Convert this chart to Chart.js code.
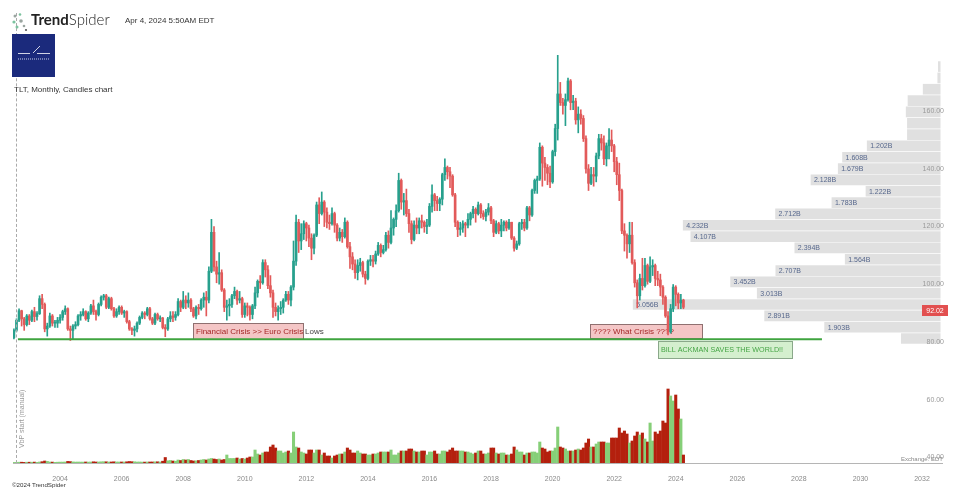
<!DOCTYPE html>
<html>
<head>
<meta charset="utf-8">
<script src="https://cdn.jsdelivr.net/npm/chart.js@4.4.1/dist/chart.umd.min.js"></script>
<style>
  body { margin: 0; background: #fff; }
  #wrap { position: relative; width: 960px; height: 491px; font-family: "Liberation Sans", Arial, sans-serif; }
  #wrap canvas { position: absolute; left: 0; top: 0; }
  .txt { position: absolute; white-space: nowrap; line-height: 1; z-index: 2; }
  .vline { position: absolute; left: 16px; top: 13px; height: 450px; border-left: 1px dashed #aaa; z-index: 1; }
  .spider { position: absolute; left: 11px; top: 12px; z-index: 2; }
  .brand { left: 31px; top: 12px; font-family: Lato, sans-serif; font-size: 15px; color: #222; font-weight: 300; }
  .brand b { font-weight: 700; }
  .stamp { left: 125px; top: 17px; font-size: 8px; color: #333; }
  .badge { position: absolute; left: 12px; top: 34px; width: 43px; height: 43px; background: #1b2a7c; z-index: 2; }
  .title { left: 14px; top: 86px; font-size: 8px; color: #333; }
  .vbp { left: 18px; top: 448px; font-size: 7px; color: #999; transform: rotate(-90deg); transform-origin: left top; }
  .exch { left: 901px; top: 456px; font-size: 6px; color: #888; }
  .copy { left: 12px; top: 482px; font-size: 6.2px; color: #333; }
</style>
</head>
<body>
<div id="wrap">
  <canvas id="tlt" width="960" height="491"></canvas>
  <div class="vline"></div>
  <svg class="spider" width="18" height="20">
    <circle cx="4" cy="4" r="1.5" fill="#9aa5a0"/>
    <circle cx="9" cy="2.5" r="1.3" fill="#7cc39f"/>
    <circle cx="3" cy="10" r="1.6" fill="#7cc39f"/>
    <circle cx="10" cy="9" r="1.8" fill="#9aa5a0"/>
    <circle cx="6" cy="15" r="1.5" fill="#7cc39f"/>
    <circle cx="13" cy="14" r="1.3" fill="#9aa5a0"/>
    <circle cx="15" cy="18" r="1.1" fill="#555"/>
  </svg>
  <div class="txt brand"><b>Trend</b>Spider</div>
  <div class="txt stamp">Apr 4, 2024 5:50AM EDT</div>
  <div class="badge">
    <svg width="43" height="43">
      <line x1="21" y1="19" x2="28" y2="12" stroke="#fff" stroke-width="0.8"/>
      <line x1="6" y1="19.5" x2="18" y2="19.5" stroke="#fff" stroke-width="0.8"/>
      <line x1="25" y1="19.5" x2="38" y2="19.5" stroke="#fff" stroke-width="0.8"/>
      <line x1="6" y1="25" x2="38" y2="25" stroke="#c8cde8" stroke-width="1.2" stroke-dasharray="1 1"/>
    </svg>
  </div>
  <div class="txt title">TLT, Monthly, Candles chart</div>
  <div class="txt vbp">VbP start (manual)</div>
  <div class="txt exch">Exchange: EDT</div>
  <div class="txt copy">©2024 TrendSpider</div>
</div>
<script>
// TLT monthly candles, Jul 2002 .. Apr 2024 (one row per year)
const firstYear = 2002
const firstMonth = 7

const opens = [
  81.5, 84.0, 87.5, 90.8, 88.0, 86.0,
  89.0, 87.5, 90.5, 88.8, 89.8, 95.0, 93.0, 84.5, 85.5, 89.0, 86.5, 86.5,
  87.5, 88.5, 90.5, 91.5, 84.5, 84.0, 85.5, 86.0, 89.0, 89.5, 90.5, 88.0,
  90.0, 92.5, 90.5, 89.5, 93.0, 95.5, 96.0, 92.0, 95.0, 91.5, 89.0, 90.5,
  92.0, 90.0, 90.5, 87.0, 84.5, 84.0, 84.5, 86.5, 88.5, 90.0, 89.5, 91.5,
  88.0, 86.5, 89.5, 88.0, 88.3, 85.0, 84.5, 88.0, 89.0, 88.5, 89.5, 94.0,
  92.0, 94.5, 93.5, 94.5, 91.5, 89.0, 92.0, 91.5, 94.5, 95.5, 94.5, 104.5,
  118.0, 106.0, 103.5, 104.0, 98.0, 92.0, 92.5, 93.0, 96.0, 97.5, 94.5, 95.0,
  89.5, 92.5, 92.0, 89.5, 92.5, 97.0, 101.0, 100.5, 107.5, 105.0, 99.5, 97.0,
  92.0, 90.5, 91.5, 92.0, 94.5, 96.5, 94.5, 99.0, 108.0, 121.5, 115.0, 117.5,
  121.0, 119.5, 116.0, 112.5, 117.0, 127.5, 124.5, 128.5, 125.0, 121.5, 121.0, 124.5,
  120.5, 116.0, 118.0, 116.5, 121.5, 113.0, 109.5, 107.0, 104.0, 106.5, 107.5, 103.5,
  102.0, 108.0, 108.5, 108.0, 110.5, 113.5, 111.0, 112.0, 117.0, 114.5, 119.5, 122.5,
  125.5, 136.0, 128.5, 129.0, 124.5, 121.0, 115.5, 120.5, 119.5, 122.0, 121.5, 120.0,
  120.5, 127.0, 131.0, 129.0, 128.0, 129.5, 138.0, 140.5, 139.0, 137.5, 131.0, 121.5,
  119.0, 119.5, 121.0, 120.5, 122.5, 124.5, 126.0, 124.5, 127.5, 124.5, 123.5, 125.0,
  126.5, 122.0, 118.0, 121.0, 118.5, 120.5, 121.5, 119.5, 121.5, 116.0, 112.5, 114.0,
  121.0, 121.5, 119.5, 126.5, 124.0, 132.5, 136.0, 136.5, 147.5, 142.0, 140.5, 138.5,
  135.5, 146.0, 154.0, 166.0, 163.0, 162.0, 164.0, 170.5, 163.0, 163.5, 157.0, 159.0,
  157.5, 150.5, 140.0, 135.0, 138.0, 137.5, 144.5, 150.5, 149.0, 143.5, 148.0, 150.0,
  148.0, 142.5, 138.0, 132.5, 118.5, 117.0, 114.0, 117.0, 107.5, 100.5, 96.0, 102.0,
  99.5, 106.5, 101.0, 106.0, 106.5, 102.0, 101.5, 99.0, 95.5, 89.0, 83.5, 91.5,
  99.0, 96.5, 93.5, 94.5
]
const highs = [
  84.5, 88.0, 91.5, 91.0, 88.5, 89.5,
  89.5, 91.0, 92.0, 90.5, 96.0, 96.5, 93.5, 86.5, 90.0, 89.5, 87.5, 88.5,
  89.5, 91.0, 92.5, 91.8, 85.5, 86.0, 87.0, 89.5, 90.5, 91.5, 90.8, 90.5,
  93.0, 94.5, 91.0, 93.5, 96.0, 96.5, 96.5, 95.5, 95.5, 92.0, 91.5, 92.5,
  92.5, 91.0, 90.8, 87.5, 85.0, 85.5, 87.0, 89.0, 90.5, 90.5, 92.0, 92.0,
  88.5, 90.0, 90.0, 89.0, 88.5, 86.0, 88.5, 90.5, 90.5, 90.5, 95.0, 94.5,
  97.5, 96.0, 97.0, 95.0, 92.0, 92.5, 93.0, 95.0, 97.0, 97.5, 106.0, 122.5,
  120.0, 108.0, 111.0, 105.0, 98.5, 94.5, 95.0, 96.5, 99.0, 98.0, 97.5, 95.5,
  93.5, 93.5, 92.5, 93.0, 99.0, 101.5, 103.0, 108.5, 108.5, 106.5, 103.0, 98.0,
  93.5, 92.5, 94.0, 95.0, 97.5, 97.5, 99.5, 115.0, 124.0, 122.5, 121.0, 122.0,
  121.5, 120.5, 117.5, 117.5, 128.5, 130.0, 132.0, 129.0, 126.5, 124.0, 126.5, 125.0,
  121.0, 119.5, 119.0, 123.0, 122.0, 114.5, 111.0, 108.5, 108.5, 109.0, 108.0, 104.5,
  108.5, 110.0, 110.0, 111.5, 114.5, 114.0, 113.5, 118.0, 118.5, 125.5, 123.0, 127.5,
  138.5, 136.5, 131.5, 133.0, 126.0, 122.0, 122.0, 123.0, 123.0, 124.0, 122.0, 122.5,
  128.0, 134.5, 131.5, 130.5, 130.0, 138.5, 143.5, 141.0, 140.5, 138.0, 131.5, 122.0,
  121.5, 122.0, 121.5, 124.5, 125.0, 127.0, 126.5, 128.5, 128.0, 125.5, 126.0, 128.0,
  127.0, 122.5, 122.0, 121.5, 122.5, 122.0, 122.0, 122.5, 121.5, 116.5, 115.0, 121.5,
  122.5, 122.5, 127.0, 127.0, 133.0, 136.5, 137.5, 149.0, 148.0, 144.0, 141.5, 141.0,
  146.5, 155.5, 179.7, 170.0, 164.5, 166.0, 171.5, 171.0, 165.5, 164.5, 161.5, 160.5,
  158.5, 151.5, 141.5, 140.5, 140.5, 145.5, 152.0, 152.0, 151.5, 149.0, 154.0, 153.5,
  148.5, 144.0, 142.0, 133.0, 121.0, 117.5, 121.5, 121.5, 108.5, 101.5, 103.5, 109.0,
  109.0, 107.0, 109.5, 108.5, 107.0, 104.5, 103.5, 99.5, 96.0, 90.5, 93.0, 99.9,
  99.5, 97.0, 96.5, 94.8
]
const lows = [
  81.0, 83.5, 87.0, 85.5, 84.0, 85.5,
  86.0, 87.0, 87.0, 87.5, 89.5, 91.5, 83.5, 82.0, 85.0, 85.5, 85.0, 85.0,
  86.5, 87.5, 89.5, 84.0, 80.5, 81.0, 84.5, 85.5, 87.5, 89.0, 87.5, 87.0,
  89.5, 89.5, 87.5, 89.0, 92.5, 94.5, 91.5, 91.5, 91.0, 88.5, 88.5, 89.5,
  89.5, 88.5, 86.5, 84.0, 82.5, 82.0, 83.5, 86.0, 88.0, 88.0, 89.0, 87.5,
  86.0, 86.0, 87.5, 87.0, 84.5, 81.8, 84.0, 87.0, 87.0, 87.5, 89.0, 90.5,
  91.5, 91.5, 92.0, 90.5, 88.5, 88.0, 89.5, 91.0, 92.0, 89.0, 93.5, 104.0,
  104.5, 100.5, 100.0, 97.5, 90.5, 87.5, 89.0, 92.0, 95.0, 93.0, 93.5, 88.5,
  88.5, 89.0, 87.5, 88.0, 91.5, 95.5, 98.5, 100.0, 102.5, 98.5, 95.5, 88.5,
  89.0, 87.5, 89.5, 90.0, 94.0, 93.0, 92.5, 98.0, 106.5, 111.0, 112.0, 115.5,
  115.0, 113.0, 108.5, 110.5, 116.5, 121.0, 124.0, 120.0, 119.5, 119.0, 120.5, 118.0,
  115.0, 115.0, 114.5, 116.0, 112.5, 105.5, 105.0, 102.0, 101.5, 104.5, 102.5, 100.0,
  101.5, 106.5, 106.0, 107.0, 110.0, 109.5, 110.5, 111.5, 112.5, 114.0, 117.0, 120.0,
  125.0, 126.0, 124.0, 123.5, 118.0, 114.0, 115.0, 117.5, 117.5, 119.5, 118.0, 117.5,
  120.0, 125.0, 125.5, 125.5, 125.5, 127.5, 136.0, 136.5, 133.5, 130.5, 120.0, 116.5,
  117.0, 118.0, 116.5, 119.5, 120.5, 123.0, 121.5, 124.0, 123.0, 122.5, 122.0, 124.0,
  121.0, 116.5, 117.5, 117.5, 116.5, 118.5, 118.5, 119.0, 115.5, 111.5, 112.0, 113.5,
  119.0, 118.5, 119.0, 122.0, 123.5, 131.5, 131.5, 136.0, 134.0, 136.0, 134.5, 133.5,
  135.0, 144.5, 150.0, 162.0, 159.0, 155.0, 163.5, 160.5, 160.5, 155.5, 152.5, 155.5,
  149.5, 138.5, 132.5, 134.5, 134.0, 135.5, 143.5, 146.5, 141.5, 141.0, 143.5, 146.0,
  139.0, 134.5, 129.0, 117.5, 111.5, 109.0, 111.0, 107.0, 99.0, 91.8, 94.5, 98.0,
  99.0, 100.0, 100.5, 103.0, 99.5, 99.5, 96.0, 93.0, 88.5, 82.4, 83.0, 90.5,
  92.5, 91.5, 91.5, 91.5
]
const closes = [
  84.0, 87.5, 90.8, 88.0, 86.0, 89.0,
  87.5, 90.5, 88.8, 89.8, 95.0, 93.0, 84.5, 85.5, 89.0, 86.5, 86.5, 87.5,
  88.5, 90.5, 91.5, 84.5, 84.0, 85.5, 86.0, 89.0, 89.5, 90.5, 88.0, 90.0,
  92.5, 90.5, 89.5, 93.0, 95.5, 96.0, 92.0, 95.0, 91.5, 89.0, 90.5, 92.0,
  90.0, 90.5, 87.0, 84.5, 84.0, 84.5, 86.5, 88.5, 90.0, 89.5, 91.5, 88.0,
  86.5, 89.5, 88.0, 88.3, 85.0, 84.5, 88.0, 89.0, 88.5, 89.5, 94.0, 92.0,
  94.5, 93.5, 94.5, 91.5, 89.0, 92.0, 91.5, 94.5, 95.5, 94.5, 104.5, 118.0,
  106.0, 103.5, 104.0, 98.0, 92.0, 92.5, 93.0, 96.0, 97.5, 94.5, 95.0, 89.5,
  92.5, 92.0, 89.5, 92.5, 97.0, 101.0, 100.5, 107.5, 105.0, 99.5, 97.0, 92.0,
  90.5, 91.5, 92.0, 94.5, 96.5, 94.5, 99.0, 108.0, 121.5, 115.0, 117.5, 121.0,
  119.5, 116.0, 112.5, 117.0, 127.5, 124.5, 128.5, 125.0, 121.5, 121.0, 124.5, 120.5,
  116.0, 118.0, 116.5, 121.5, 113.0, 109.5, 107.0, 104.0, 106.5, 107.5, 103.5, 102.0,
  108.0, 108.5, 108.0, 110.5, 113.5, 111.0, 112.0, 117.0, 114.5, 119.5, 122.5, 125.5,
  136.0, 128.5, 129.0, 124.5, 121.0, 115.5, 120.5, 119.5, 122.0, 121.5, 120.0, 120.5,
  127.0, 131.0, 129.0, 128.0, 129.5, 138.0, 140.5, 139.0, 137.5, 131.0, 121.5, 119.0,
  119.5, 121.0, 120.5, 122.5, 124.5, 126.0, 124.5, 127.5, 124.5, 123.5, 125.0, 126.5,
  122.0, 118.0, 121.0, 118.5, 120.5, 121.5, 119.5, 121.5, 116.0, 112.5, 114.0, 121.0,
  121.5, 119.5, 126.5, 124.0, 132.5, 136.0, 136.5, 147.5, 142.0, 140.5, 138.5, 135.5,
  146.0, 154.0, 166.0, 163.0, 162.0, 164.0, 170.5, 163.0, 163.5, 157.0, 159.0, 157.5,
  150.5, 140.0, 135.0, 138.0, 137.5, 144.5, 150.5, 149.0, 143.5, 148.0, 150.0, 148.0,
  142.5, 138.0, 132.5, 118.5, 117.0, 114.0, 117.0, 107.5, 100.5, 96.0, 102.0, 99.5,
  106.5, 101.0, 106.0, 106.5, 102.0, 101.5, 99.0, 95.5, 89.0, 83.5, 91.5, 99.0,
  96.5, 93.5, 94.5, 92.02
]
// monthly volume
const volumes = [
  0.6, 0.6, 0.8, 0.8, 0.6, 0.8,
  0.8, 0.8, 0.9, 0.7, 1.0, 1.3, 2.0, 1.6, 1.0, 0.9, 0.7, 0.8,
  0.9, 0.9, 1.0, 1.6, 1.4, 1.1, 0.9, 1.0, 0.9, 0.9, 1.0, 0.9,
  1.0, 1.2, 1.0, 1.0, 1.2, 1.3, 1.2, 1.0, 1.0, 1.2, 1.0, 1.0,
  1.0, 1.0, 1.2, 1.5, 1.3, 1.2, 1.0, 1.0, 0.9, 0.9, 1.0, 1.0,
  1.0, 1.2, 1.2, 1.0, 1.8, 5.5, 2.2, 2.5, 2.0, 1.8, 3.0, 2.5,
  3.5, 3.0, 3.5, 2.5, 2.0, 2.2, 2.5, 3.0, 3.5, 3.0, 4.0, 4.5,
  4.0, 3.5, 4.0, 3.0, 3.5, 8.0, 4.5, 4.5, 4.5, 5.0, 4.0, 4.5,
  4.0, 5.0, 6.0, 6.0, 13, 9, 8, 10, 11, 11, 16, 18,
  15, 12, 12, 10, 11, 12, 10, 31, 16, 15, 11, 10,
  9, 13, 13, 10, 13, 13, 8, 10, 7, 7, 5, 7,
  8, 9, 9, 11, 15, 13, 10, 10, 12, 10, 9, 9,
  8, 8, 9, 9, 10, 11, 11, 11, 11, 13, 8, 8,
  10, 12, 12, 12, 14, 14, 12, 11, 11, 12, 12, 8,
  11, 11, 12, 9, 9, 12, 12, 11, 13, 15, 12, 12,
  12, 12, 11, 11, 10, 9, 10, 12, 12, 9, 9, 10,
  15, 15, 10, 9, 10, 10, 8, 8, 9, 16, 13, 11,
  11, 8, 10, 10, 11, 11, 10, 21, 15, 14, 11, 12,
  12, 15, 36, 16, 15, 14, 12, 12, 12, 13, 14, 13,
  15, 20, 24, 16, 16, 19, 21, 21, 21, 20, 20, 25,
  25, 25, 35, 30, 32, 29, 20, 22, 27, 31, 28, 30,
  24, 21, 40, 22, 31, 29, 32, 42, 40, 74, 67, 62,
  68, 54, 44, 8
]

// volume by price (billions), bins from the bottom up
const vbpBottom = 79.2
const vbpStep = 3.93
const vbpVolumes = [0.64, 1.903, 2.891, 5.056, 3.013, 3.452, 2.707, 1.564, 2.394, 4.107, 4.232, 2.712, 1.783,
  1.222, 2.128, 1.679, 1.608, 1.202, 0.54, 0.54, 0.56, 0.53, 0.28, 0.04, 0.03]

const lowsLevel = 80.9
const lowsFrom = 2002.63
const lowsTo = 2028.75
const lastPrice = 92.02

const notes = [
  { text: 'Financial Crisis >> Euro Crisis', after: 'Lows', from: 2008.32, to: 2011.89, top: 86.4, bottom: 81.0, kind: 'red' },
  { text: '???? What Crisis ????', from: 2021.22, to: 2024.86, top: 86.2, bottom: 81.2, kind: 'red' },
  { text: 'BILL ACKMAN SAVES THE WORLD!!', from: 2023.42, to: 2027.77, top: 80.2, bottom: 74.4, kind: 'green' }
]

const UP = '#27a08d'
const DOWN = '#e25a5a'
const VOL_UP = '#86cf78'
const VOL_DOWN = '#b4200e'
const noteStyle = {
  red: { fill: 'rgba(236,160,160,0.6)', stroke: '#8f7070', color: '#a52626', size: 8 },
  green: { fill: 'rgba(205,236,198,0.85)', stroke: '#8aa88a', color: '#46a546', size: 7.2 }
}

const months = opens.map((_, i) => firstYear + (firstMonth - 1 + i) / 12)
const isUp = closes.map((c, i) => c >= opens[i])
const VBP_INDEX = 4

const overlay = {
    id: 'overlay',
    beforeDatasetsDraw(chart) {
        const { ctx } = chart
        const xs = chart.scales.x, ys = chart.scales.y
        ctx.save()
        notes.forEach(n => {
            const st = noteStyle[n.kind]
            const x0 = Math.round(xs.getPixelForValue(n.from)), x1 = Math.round(xs.getPixelForValue(n.to))
            const y0 = Math.round(ys.getPixelForValue(n.top)), y1 = Math.round(ys.getPixelForValue(n.bottom))
            ctx.fillStyle = st.fill
            ctx.fillRect(x0, y0, x1 - x0, y1 - y0)
            ctx.strokeStyle = st.stroke
            ctx.lineWidth = 1
            ctx.strokeRect(x0 + 0.5, y0 + 0.5, x1 - x0, y1 - y0)
            ctx.font = st.size + 'px "Liberation Sans"'
            ctx.textBaseline = 'middle'
            ctx.textAlign = 'left'
            ctx.fillStyle = st.color
            ctx.fillText(n.text, x0 + 3, (y0 + y1) / 2 + 1)
            if (n.after) {
                ctx.fillStyle = '#444'
                ctx.fillText(n.after, x1 + 2, (y0 + y1) / 2 + 1)
            }
        })
        ctx.restore()
    },
    afterDatasetDraw(chart, args) {
        if (args.index !== VBP_INDEX) return
        const { ctx } = chart
        ctx.save()
        ctx.font = '7px "Liberation Sans"'
        ctx.fillStyle = '#56678c'
        ctx.textBaseline = 'middle'
        ctx.textAlign = 'left'
        args.meta.data.forEach((bar, i) => {
            if (vbpVolumes[i] >= 1) ctx.fillText(vbpVolumes[i].toFixed(3) + 'B', bar.x + 3, bar.y + 0.5)
        })
        ctx.restore()
    },
    afterDraw(chart) {
        const { ctx, chartArea } = chart
        const y = chart.scales.y.getPixelForValue(lastPrice) + 3
        ctx.save()
        ctx.fillStyle = '#e25050'
        ctx.fillRect(chartArea.right - 20, Math.round(y - 5.5), 26, 11)
        ctx.fillStyle = '#fff'
        ctx.font = '7px "Liberation Sans"'
        ctx.textAlign = 'center'
        ctx.textBaseline = 'middle'
        ctx.fillText(lastPrice.toFixed(2), chartArea.right - 7, y + 0.5)
        ctx.restore()
    }
}

document.addEventListener('DOMContentLoaded', function () {
    Chart.defaults.font.family = '"Liberation Sans", Arial, sans-serif'

    new Chart(document.getElementById('tlt'), {
        type: 'bar',
        data: {
            datasets: [
                {   // "Lows" line
                    type: 'line',
                    data: [{ x: lowsFrom, y: lowsLevel }, { x: lowsTo, y: lowsLevel }],
                    borderColor: '#3fa43f',
                    borderWidth: 2,
                    pointRadius: 0,
                    order: 0
                },
                {   // candle bodies
                    data: months.map((x, i) => ({ x, y: [opens[i], closes[i]] })),
                    backgroundColor: isUp.map(u => u ? UP : DOWN),
                    barThickness: 2,
                    minBarLength: 1,
                    grouped: false,
                    order: 1
                },
                {   // wicks
                    data: months.map((x, i) => ({ x, y: [lows[i], highs[i]] })),
                    backgroundColor: isUp.map(u => u ? UP : DOWN),
                    barThickness: 1,
                    grouped: false,
                    order: 2
                },
                {   // volume pane
                    data: months.map((x, i) => ({ x, y: volumes[i] })),
                    yAxisID: 'yVol',
                    backgroundColor: isUp.map(u => u ? VOL_UP : VOL_DOWN),
                    barThickness: 2.4,
                    grouped: false,
                    order: 4
                },
                {   // volume by price
                    indexAxis: 'y',
                    xAxisID: 'xVbp',
                    yAxisID: 'y',
                    data: vbpVolumes.map((v, i) => ({ x: v, y: vbpBottom + (i + 0.5) * vbpStep })),
                    backgroundColor: 'rgba(218,218,218,0.85)',
                    barThickness: 10,
                    grouped: false,
                    order: 6
                }
            ]
        },
        options: {
            responsive: false,
            animation: false,
            devicePixelRatio: 1,
            events: [],
            layout: { padding: { left: 13, right: 18, top: 55, bottom: 10 } },
            plugins: { legend: { display: false }, tooltip: { enabled: false } },
            scales: {
                x: {
                    type: 'linear',
                    position: 'bottom',
                    offset: false,
                    min: 2002.47,
                    max: 2032.65,
                    grid: { display: false, offset: false },
                    border: { color: '#b5b5b5' },
                    ticks: {
                        stepSize: 2, includeBounds: false, autoSkip: false, maxRotation: 0,
                        padding: 4, color: '#8a8a8a', font: { size: 7 },
                        callback: v => String(v)
                    },
                    afterFit: s => { s.height = 18 }
                },
                y: {
                    type: 'linear',
                    position: 'right',
                    offset: false,
                    min: 38,
                    max: 179.5,
                    grid: { display: false, offset: false },
                    border: { display: false },
                    ticks: {
                        stepSize: 20, includeBounds: false, mirror: true, padding: 2, z: 1,
                        color: '#9a9a9a', font: { size: 7 },
                        callback: v => v.toFixed(2)
                    },
                    afterFit: s => { s.width = 0 }
                },
                yVol: { type: 'linear', axis: 'y', position: 'left', display: false, offset: false, min: 0, max: 408 },
                xVbp: { type: 'linear', axis: 'x', position: 'top', display: false, offset: false, min: -0.03, max: 15.27, reverse: true }
            }
        },
        plugins: [overlay]
    })
})
</script>
</body>
</html>
